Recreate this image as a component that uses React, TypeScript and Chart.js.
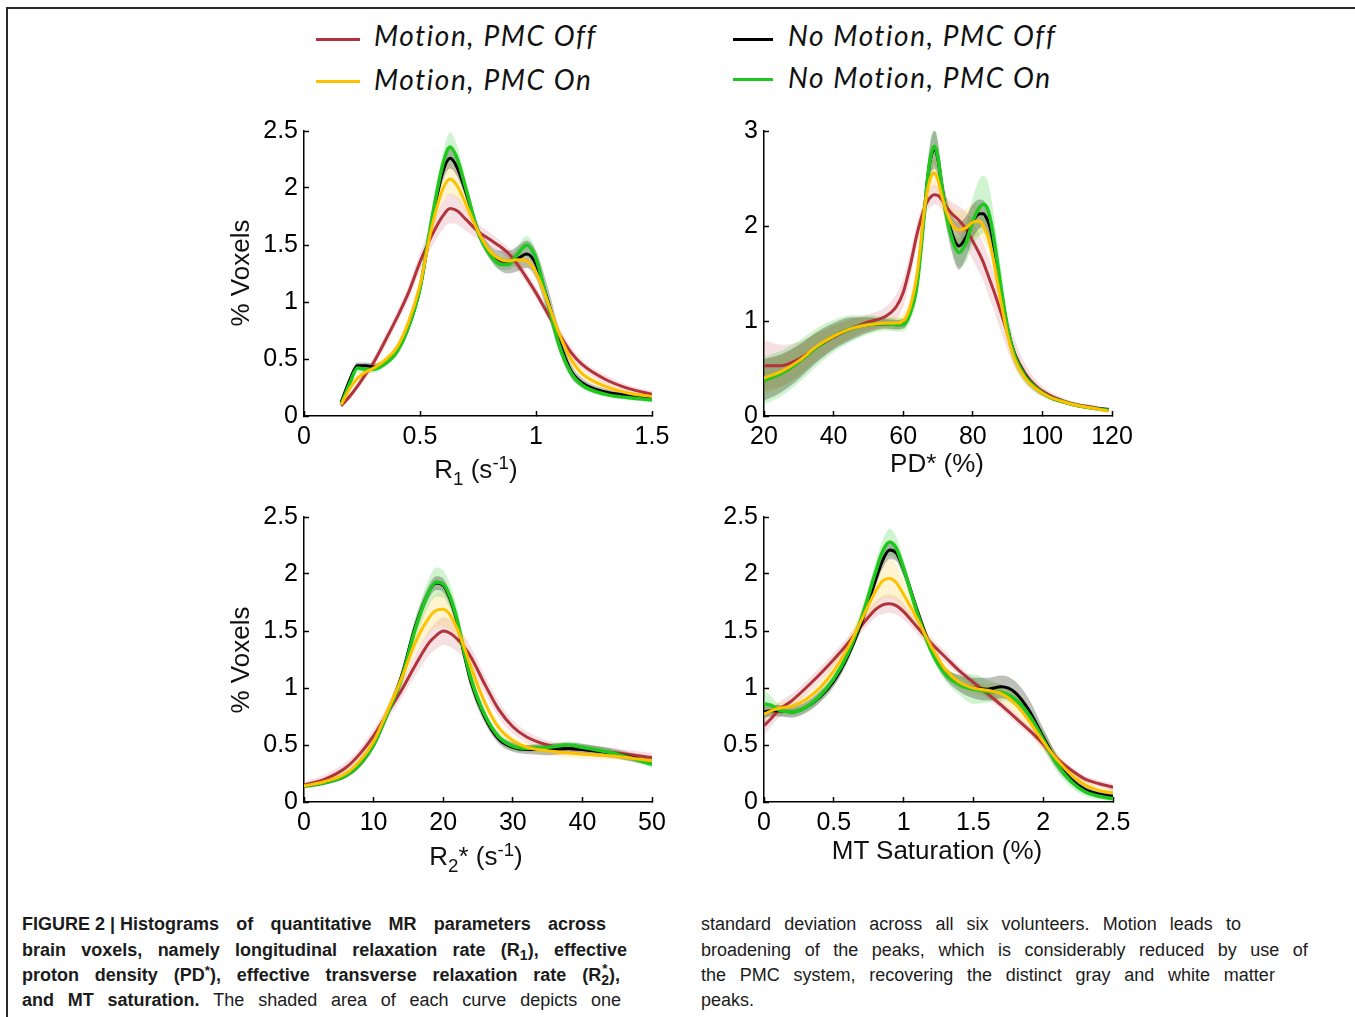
import React, { useEffect, useRef } from "react";
import { Chart, registerables } from "chart.js";

Chart.register(...registerables);

// ---------------- Series names ----------------
const seriesLabels = ["Motion, PMC Off", "Motion, PMC On", "No Motion, PMC Off", "No Motion, PMC On"];

// ---------------- R1 panel ----------------
const r1X = [0.16, 0.2, 0.23, 0.27, 0.3, 0.35, 0.4, 0.45, 0.5, 0.55, 0.6, 0.63, 0.66, 0.7, 0.75, 0.8, 0.85, 0.88, 0.92, 0.96, 1.0, 1.05, 1.1, 1.15, 1.2, 1.3, 1.4, 1.5];
const r1MotionOff = [0.09, 0.18, 0.26, 0.38, 0.47, 0.66, 0.86, 1.08, 1.35, 1.58, 1.76, 1.82, 1.8, 1.72, 1.62, 1.55, 1.48, 1.43, 1.33, 1.21, 1.08, 0.9, 0.72, 0.56, 0.45, 0.32, 0.24, 0.19];
const r1MotionOn = [0.1, 0.25, 0.33, 0.39, 0.42, 0.49, 0.6, 0.82, 1.15, 1.65, 2.0, 2.08, 2.02, 1.85, 1.62, 1.45, 1.37, 1.36, 1.37, 1.36, 1.26, 1.0, 0.72, 0.5, 0.37, 0.26, 0.2, 0.17];
const r1NoMotionOff = [0.12, 0.33, 0.44, 0.44, 0.43, 0.47, 0.57, 0.78, 1.12, 1.7, 2.15, 2.26, 2.18, 1.95, 1.62, 1.44, 1.36, 1.35, 1.38, 1.42, 1.33, 1.02, 0.66, 0.4, 0.29, 0.21, 0.18, 0.16];
const r1NoMotionOn = [0.1, 0.3, 0.42, 0.41, 0.41, 0.46, 0.56, 0.78, 1.12, 1.72, 2.22, 2.36, 2.26, 1.98, 1.62, 1.42, 1.33, 1.33, 1.42, 1.5, 1.38, 1.0, 0.62, 0.38, 0.27, 0.19, 0.16, 0.14];
const r1MotionOffSd = [0.02, 0.03, 0.03, 0.04, 0.04, 0.05, 0.05, 0.06, 0.08, 0.1, 0.12, 0.13, 0.12, 0.1, 0.07, 0.06, 0.05, 0.05, 0.05, 0.05, 0.05, 0.05, 0.05, 0.05, 0.04, 0.04, 0.03, 0.03];
const r1MotionOnSd = [0.02, 0.03, 0.03, 0.03, 0.03, 0.03, 0.04, 0.05, 0.06, 0.08, 0.12, 0.14, 0.12, 0.08, 0.05, 0.04, 0.04, 0.05, 0.06, 0.06, 0.06, 0.06, 0.06, 0.05, 0.04, 0.03, 0.02, 0.02];
const r1NoMotionOffSd = [0.02, 0.03, 0.03, 0.03, 0.03, 0.03, 0.03, 0.04, 0.05, 0.06, 0.08, 0.09, 0.08, 0.06, 0.05, 0.06, 0.09, 0.1, 0.11, 0.12, 0.12, 0.12, 0.1, 0.06, 0.04, 0.03, 0.02, 0.02];
const r1NoMotionOnSd = [0.02, 0.03, 0.04, 0.03, 0.03, 0.03, 0.03, 0.04, 0.05, 0.07, 0.1, 0.13, 0.11, 0.07, 0.05, 0.04, 0.05, 0.05, 0.07, 0.08, 0.07, 0.06, 0.05, 0.04, 0.03, 0.02, 0.02, 0.02];

// ---------------- PD* panel ----------------
const pdX = [20, 25, 30, 35, 40, 45, 50, 55, 58, 60, 62, 64, 66, 67, 68, 69, 70, 71, 72, 74, 76, 78, 80, 82, 83, 84, 85, 86, 88, 90, 92, 95, 98, 102, 106, 110, 115, 119];
const pdMotionOff = [0.53, 0.53, 0.6, 0.72, 0.83, 0.92, 0.99, 1.05, 1.15, 1.3, 1.58, 1.92, 2.18, 2.26, 2.31, 2.33, 2.32, 2.28, 2.22, 2.13, 2.06, 1.97, 1.84, 1.7, 1.62, 1.52, 1.42, 1.32, 1.1, 0.87, 0.66, 0.45, 0.32, 0.22, 0.16, 0.12, 0.09, 0.06];
const pdMotionOn = [0.4, 0.47, 0.58, 0.73, 0.84, 0.92, 0.96, 0.98, 0.98, 1.0, 1.15, 1.5, 2.15, 2.38, 2.52, 2.56, 2.48, 2.33, 2.2, 2.02, 1.96, 1.98, 2.04, 2.05, 2.0, 1.92, 1.8, 1.63, 1.22, 0.85, 0.6, 0.4, 0.29, 0.2, 0.15, 0.11, 0.08, 0.05];
const pdNoMotionOff = [0.38, 0.45, 0.57, 0.72, 0.84, 0.92, 0.96, 0.97, 0.96, 0.97, 1.1, 1.42, 2.12, 2.5, 2.73, 2.8, 2.7, 2.45, 2.22, 1.92, 1.79, 1.88, 2.05, 2.13, 2.13, 2.08, 1.98, 1.8, 1.35, 0.92, 0.65, 0.43, 0.3, 0.2, 0.15, 0.11, 0.08, 0.07];
const pdNoMotionOn = [0.37, 0.45, 0.57, 0.72, 0.84, 0.92, 0.96, 0.97, 0.96, 0.96, 1.08, 1.38, 2.1, 2.5, 2.75, 2.84, 2.72, 2.45, 2.2, 1.87, 1.72, 1.82, 2.05, 2.2, 2.23, 2.2, 2.08, 1.88, 1.38, 0.92, 0.64, 0.42, 0.3, 0.2, 0.15, 0.11, 0.08, 0.06];
const pdMotionOffSd = [0.27, 0.22, 0.18, 0.15, 0.12, 0.1, 0.08, 0.1, 0.13, 0.15, 0.14, 0.12, 0.1, 0.1, 0.1, 0.1, 0.1, 0.1, 0.1, 0.12, 0.15, 0.18, 0.2, 0.2, 0.2, 0.2, 0.2, 0.2, 0.2, 0.18, 0.15, 0.1, 0.07, 0.04, 0.03, 0.02, 0.02, 0.01];
const pdMotionOnSd = [0.18, 0.17, 0.16, 0.14, 0.12, 0.1, 0.08, 0.07, 0.07, 0.08, 0.1, 0.12, 0.14, 0.15, 0.15, 0.15, 0.15, 0.15, 0.15, 0.18, 0.2, 0.2, 0.18, 0.15, 0.14, 0.13, 0.12, 0.12, 0.1, 0.08, 0.06, 0.05, 0.04, 0.03, 0.02, 0.02, 0.01, 0.01];
const pdNoMotionOffSd = [0.22, 0.2, 0.18, 0.16, 0.14, 0.12, 0.08, 0.05, 0.05, 0.05, 0.06, 0.08, 0.12, 0.15, 0.18, 0.2, 0.18, 0.15, 0.15, 0.2, 0.25, 0.22, 0.18, 0.15, 0.14, 0.13, 0.12, 0.12, 0.1, 0.08, 0.05, 0.04, 0.03, 0.02, 0.02, 0.01, 0.01, 0.01];
const pdNoMotionOnSd = [0.25, 0.24, 0.22, 0.2, 0.17, 0.14, 0.1, 0.07, 0.07, 0.07, 0.08, 0.1, 0.14, 0.18, 0.2, 0.2, 0.18, 0.15, 0.12, 0.12, 0.15, 0.2, 0.25, 0.3, 0.3, 0.3, 0.28, 0.25, 0.2, 0.14, 0.1, 0.07, 0.05, 0.03, 0.02, 0.02, 0.01, 0.01];

// ---------------- R2* panel ----------------
const r2X = [0, 3, 6, 8, 10, 12, 14, 16, 18, 19, 20, 21, 22, 23, 24, 26, 28, 30, 32, 35, 38, 40, 45, 50];
const r2MotionOff = [0.15, 0.2, 0.3, 0.42, 0.58, 0.78, 0.98, 1.2, 1.4, 1.46, 1.5, 1.48, 1.43, 1.36, 1.27, 1.03, 0.81, 0.66, 0.57, 0.5, 0.47, 0.46, 0.43, 0.39];
const r2MotionOn = [0.14, 0.18, 0.25, 0.36, 0.53, 0.8, 1.08, 1.4, 1.62, 1.68, 1.69, 1.64, 1.52, 1.36, 1.18, 0.87, 0.65, 0.54, 0.48, 0.45, 0.43, 0.42, 0.4, 0.36];
const r2NoMotionOff = [0.14, 0.17, 0.23, 0.33, 0.5, 0.78, 1.1, 1.54, 1.85, 1.92, 1.9, 1.78, 1.58, 1.3, 1.05, 0.74, 0.55, 0.48, 0.46, 0.46, 0.47, 0.46, 0.42, 0.35];
const r2NoMotionOn = [0.14, 0.17, 0.23, 0.33, 0.5, 0.78, 1.08, 1.52, 1.85, 1.93, 1.91, 1.8, 1.6, 1.32, 1.08, 0.76, 0.57, 0.49, 0.47, 0.48, 0.5, 0.48, 0.42, 0.33];
const r2MotionOffSd = [0.03, 0.04, 0.05, 0.05, 0.06, 0.06, 0.07, 0.09, 0.11, 0.12, 0.12, 0.12, 0.11, 0.1, 0.09, 0.08, 0.07, 0.06, 0.05, 0.04, 0.04, 0.04, 0.04, 0.04];
const r2MotionOnSd = [0.02, 0.02, 0.03, 0.03, 0.04, 0.05, 0.07, 0.1, 0.14, 0.15, 0.15, 0.14, 0.12, 0.1, 0.08, 0.05, 0.04, 0.04, 0.04, 0.04, 0.04, 0.04, 0.03, 0.03];
const r2NoMotionOffSd = [0.02, 0.02, 0.02, 0.03, 0.03, 0.04, 0.05, 0.06, 0.06, 0.06, 0.06, 0.06, 0.06, 0.06, 0.06, 0.05, 0.04, 0.04, 0.04, 0.05, 0.05, 0.05, 0.04, 0.03];
const r2NoMotionOnSd = [0.02, 0.02, 0.02, 0.03, 0.03, 0.05, 0.07, 0.1, 0.12, 0.13, 0.12, 0.11, 0.1, 0.08, 0.07, 0.05, 0.04, 0.04, 0.03, 0.03, 0.03, 0.03, 0.03, 0.03];

// ---------------- MT saturation panel ----------------
const mtX = [0, 0.05, 0.1, 0.2, 0.3, 0.4, 0.5, 0.6, 0.7, 0.8, 0.85, 0.9, 0.95, 1.0, 1.1, 1.2, 1.3, 1.4, 1.5, 1.6, 1.7, 1.8, 1.9, 2.0, 2.1, 2.2, 2.3, 2.4, 2.5];
const mtMotionOff = [0.67, 0.73, 0.8, 0.89, 1.0, 1.12, 1.25, 1.39, 1.55, 1.69, 1.73, 1.74, 1.72, 1.67, 1.53, 1.39, 1.27, 1.15, 1.05, 0.95, 0.85, 0.74, 0.63, 0.51, 0.38, 0.28, 0.2, 0.16, 0.13];
const mtMotionOn = [0.77, 0.8, 0.82, 0.84, 0.9, 1.0, 1.15, 1.35, 1.6, 1.85, 1.94, 1.96, 1.92, 1.82, 1.6, 1.36, 1.16, 1.05, 1.0, 0.98, 0.95, 0.86, 0.71, 0.53, 0.37, 0.24, 0.15, 0.1, 0.08];
const mtNoMotionOff = [0.79, 0.8, 0.8, 0.79, 0.83, 0.92, 1.06, 1.28, 1.58, 1.95, 2.12, 2.21, 2.18, 2.04, 1.67, 1.34, 1.13, 1.04, 1.0, 0.99, 1.01, 0.96, 0.8, 0.57, 0.35, 0.2, 0.11, 0.07, 0.05];
const mtNoMotionOn = [0.86, 0.85, 0.81, 0.79, 0.83, 0.93, 1.08, 1.3, 1.62, 2.02, 2.2, 2.28, 2.22, 2.05, 1.65, 1.32, 1.12, 1.03, 0.99, 0.97, 0.96, 0.9, 0.76, 0.55, 0.33, 0.18, 0.09, 0.05, 0.03];
const mtMotionOffSd = [0.08, 0.07, 0.07, 0.06, 0.06, 0.06, 0.06, 0.06, 0.06, 0.07, 0.08, 0.08, 0.08, 0.07, 0.06, 0.05, 0.05, 0.04, 0.04, 0.04, 0.04, 0.04, 0.04, 0.04, 0.04, 0.03, 0.03, 0.03, 0.03];
const mtMotionOnSd = [0.05, 0.05, 0.05, 0.05, 0.05, 0.06, 0.07, 0.08, 0.1, 0.14, 0.16, 0.17, 0.16, 0.13, 0.08, 0.06, 0.05, 0.05, 0.05, 0.06, 0.08, 0.09, 0.09, 0.08, 0.06, 0.05, 0.04, 0.03, 0.03];
const mtNoMotionOffSd = [0.05, 0.05, 0.05, 0.05, 0.05, 0.05, 0.05, 0.05, 0.05, 0.06, 0.07, 0.08, 0.07, 0.06, 0.05, 0.05, 0.05, 0.07, 0.09, 0.1, 0.1, 0.1, 0.1, 0.08, 0.06, 0.04, 0.03, 0.02, 0.02];
const mtNoMotionOnSd = [0.12, 0.08, 0.05, 0.04, 0.04, 0.05, 0.05, 0.06, 0.07, 0.09, 0.1, 0.12, 0.1, 0.08, 0.06, 0.05, 0.06, 0.09, 0.13, 0.1, 0.07, 0.06, 0.07, 0.08, 0.07, 0.05, 0.04, 0.03, 0.02];

// ---------------- Styles ----------------
const LINE_COLORS = ["#b2333b", "#ffc000", "#000000", "#1fc81f"];
const BAND_COLORS = ["rgba(190,70,80,0.16)", "rgba(255,200,30,0.2)", "rgba(35,50,25,0.3)", "rgba(40,200,40,0.22)"];
const LINE_WIDTHS = [3, 3, 3, 3.5];
const SANS = "'Liberation Sans', Arial, Helvetica, sans-serif";
const TICK_FONT = { family: SANS, size: 25 };
const PAD_L = 84;
const PAD_R = 32;
const PAD_T = 20;
const PAD_B = 45;

type PanelDef = {
  rect: number[];
  xMin: number;
  xMax: number;
  xStep: number;
  yMax: number;
  yStep: number;
  x: number[];
  means: number[][];
  sds: number[][];
};

const panels: PanelDef[] = [
  { rect: [304, 131, 652, 416], xMin: 0, xMax: 1.5, xStep: 0.5, yMax: 2.5, yStep: 0.5, x: r1X,
    means: [r1MotionOff, r1MotionOn, r1NoMotionOff, r1NoMotionOn], sds: [r1MotionOffSd, r1MotionOnSd, r1NoMotionOffSd, r1NoMotionOnSd] },
  { rect: [764, 131, 1112, 416], xMin: 20, xMax: 120, xStep: 20, yMax: 3, yStep: 1, x: pdX,
    means: [pdMotionOff, pdMotionOn, pdNoMotionOff, pdNoMotionOn], sds: [pdMotionOffSd, pdMotionOnSd, pdNoMotionOffSd, pdNoMotionOnSd] },
  { rect: [304, 517, 652, 802], xMin: 0, xMax: 50, xStep: 10, yMax: 2.5, yStep: 0.5, x: r2X,
    means: [r2MotionOff, r2MotionOn, r2NoMotionOff, r2NoMotionOn], sds: [r2MotionOffSd, r2MotionOnSd, r2NoMotionOffSd, r2NoMotionOnSd] },
  { rect: [764, 517, 1113, 802], xMin: 0, xMax: 2.5, xStep: 0.5, yMax: 2.5, yStep: 0.5, x: mtX,
    means: [mtMotionOff, mtMotionOn, mtNoMotionOff, mtNoMotionOn], sds: [mtMotionOffSd, mtMotionOnSd, mtNoMotionOffSd, mtNoMotionOnSd] },
];

const pts = (xs: number[], ys: number[]) => xs.map((xv, i) => ({ x: xv, y: ys[i] }));
const fmtTick = (v: any) => String(parseFloat(Number(v).toFixed(3)));

function buildConfig(def: PanelDef): any {
  const lineOrder = [1, 3, 2, 0]; // first = drawn on top
  const bandOrder = [2, 3, 1, 0];
  const lineSets = lineOrder.map((i) => ({
    label: seriesLabels[i],
    data: pts(def.x, def.means[i]),
    borderColor: LINE_COLORS[i],
    borderWidth: LINE_WIDTHS[i],
    pointRadius: 0,
    fill: false,
    cubicInterpolationMode: "monotone",
  }));
  const bandSets = bandOrder.flatMap((i) => [
    {
      label: seriesLabels[i] + " +SD",
      data: pts(def.x, def.means[i].map((m, k) => m + def.sds[i][k])),
      borderColor: "transparent",
      borderWidth: 0,
      pointRadius: 0,
      backgroundColor: BAND_COLORS[i],
      fill: "+1",
      cubicInterpolationMode: "monotone",
    },
    {
      label: seriesLabels[i] + " -SD",
      data: pts(def.x, def.means[i].map((m, k) => m - def.sds[i][k])),
      borderColor: "transparent",
      borderWidth: 0,
      pointRadius: 0,
      fill: false,
      cubicInterpolationMode: "monotone",
    },
  ]);
  const grid = {
    display: true,
    drawOnChartArea: false,
    drawTicks: true,
    tickLength: -5,
    tickColor: "#000",
    tickWidth: 1.5,
  };
  const border = { display: true, color: "#000", width: 1.5 };
  return {
    type: "line",
    data: { datasets: [...lineSets, ...bandSets] },
    options: {
      responsive: false,
      animation: false,
      devicePixelRatio: 1,
      layout: { padding: { top: PAD_T, right: PAD_R, left: 0, bottom: 0 } },
      plugins: {
        legend: { display: false },
        tooltip: { enabled: false },
        filler: { propagate: false, drawTime: "beforeDatasetsDraw" },
      },
      scales: {
        x: {
          type: "linear",
          min: def.xMin,
          max: def.xMax,
          ticks: { stepSize: def.xStep, font: TICK_FONT, color: "#000", padding: 11, maxRotation: 0, autoSkip: false, callback: fmtTick },
          grid,
          border,
          afterFit: (s: any) => {
            s.height = PAD_B;
            s.paddingLeft = 0;
            s.paddingRight = 0;
          },
        },
        y: {
          type: "linear",
          min: 0,
          max: def.yMax,
          ticks: { stepSize: def.yStep, font: TICK_FONT, color: "#000", padding: 11, autoSkip: false, callback: fmtTick },
          grid,
          border,
          afterFit: (s: any) => {
            s.width = PAD_L;
            s.paddingTop = 0;
            s.paddingBottom = 0;
          },
        },
      },
    },
  };
}

function Panel({ def }: { def: PanelDef }) {
  const ref = useRef<HTMLCanvasElement>(null);
  useEffect(() => {
    if (!ref.current) return;
    const chart = new Chart(ref.current, buildConfig(def));
    return () => chart.destroy();
  }, [def]);
  const [l, t, r, b] = def.rect;
  const w = r - l + PAD_L + PAD_R;
  const h = b - t + PAD_T + PAD_B;
  return (
    <canvas
      ref={ref}
      width={w}
      height={h}
      style={{ position: "absolute", left: l - PAD_L, top: t - PAD_T, width: w, height: h }}
    />
  );
}

// ---------------- Text helpers ----------------
const titleStyle: React.CSSProperties = {
  position: "absolute",
  fontFamily: SANS,
  fontSize: 26,
  lineHeight: "26px",
  color: "#111",
  whiteSpace: "nowrap",
  transform: "translate(-50%, -50%)",
};
const subStyle: React.CSSProperties = { fontSize: "0.72em", position: "relative", top: "0.38em" };
const supStyle: React.CSSProperties = { fontSize: "0.72em", position: "relative", top: "-0.5em" };

function XTitle({ cx, cy, children }: { cx: number; cy: number; children: React.ReactNode }) {
  return <div style={{ ...titleStyle, left: cx, top: cy }}>{children}</div>;
}
function YTitle({ cx, cy, text }: { cx: number; cy: number; text: string }) {
  return (
    <div style={{ ...titleStyle, left: cx, top: cy, transform: "translate(-50%, -50%) rotate(-90deg)" }}>{text}</div>
  );
}

const legendFont = "Lato, 'Open Sans', 'Noto Sans', sans-serif";
const legendRows = [
  { idx: 0, lx: 316, ly: 39, tx: 374, ty: 21 },
  { idx: 1, lx: 316, ly: 81, tx: 374, ty: 65 },
  { idx: 2, lx: 733, ly: 39, tx: 788, ty: 21 },
  { idx: 3, lx: 733, ly: 79, tx: 788, ty: 63 },
];

const capFont: React.CSSProperties = {
  fontFamily: SANS,
  fontSize: 18,
  lineHeight: "25px",
  color: "#1b1b1b",
};

function JLine({ left, top, width, bold, words }: { left: number; top: number; width: number; bold?: boolean; words: React.ReactNode[] }) {
  return (
    <div
      style={{
        ...capFont,
        position: "absolute",
        left,
        top,
        width,
        display: "flex",
        justifyContent: "space-between",
        fontWeight: bold ? 700 : 400,
        whiteSpace: "pre",
      }}
    >
      {words.map((w, i) => (
        <span key={i}>{w}</span>
      ))}
    </div>
  );
}

const capSub: React.CSSProperties = { fontSize: "0.78em", position: "relative", top: "0.3em" };
const r2Star = (
  <>
    R
    <span style={{ position: "relative", display: "inline-block" }}>
      <span style={{ position: "absolute", left: 1, top: "-0.55em", fontSize: "0.75em" }}>*</span>
      <span style={capSub}>2</span>
    </span>
  </>
);

const words = (s: string) => s.split(" ");

export default function App() {
  return (
    <div
      style={{
        position: "absolute",
        left: 0,
        top: 0,
        width: 1355,
        height: 1017,
        background: "#fff",
        overflow: "hidden",
      }}
    >
      {/* frame */}
      <div
        style={{
          position: "absolute",
          left: 6,
          top: 7,
          width: 1360,
          height: 1020,
          borderTop: "2px solid #2a2a2a",
          borderLeft: "2px solid #2a2a2a",
        }}
      />

      {/* legend */}
      {legendRows.map((r) => (
        <React.Fragment key={r.idx}>
          <div
            style={{
              position: "absolute",
              left: r.lx,
              top: r.ly - 1.5,
              width: r.idx < 2 ? 44 : 40,
              height: 3,
              background: LINE_COLORS[r.idx],
            }}
          />
          <div
            style={{
              position: "absolute",
              left: r.tx,
              top: r.ty,
              fontFamily: legendFont,
              fontStyle: "italic",
              fontSize: 28,
              lineHeight: "28px",
              letterSpacing: "1.6px",
              color: "#111",
              whiteSpace: "nowrap",
            }}
          >
            {seriesLabels[r.idx]}
          </div>
        </React.Fragment>
      ))}

      {panels.map((p, i) => (
        <Panel key={i} def={p} />
      ))}

      {/* axis titles */}
      <YTitle cx={240} cy={273} text="% Voxels" />
      <YTitle cx={240} cy={660} text="% Voxels" />
      <XTitle cx={476} cy={470}>
        R<span style={subStyle}>1</span> (s<span style={supStyle}>-1</span>)
      </XTitle>
      <XTitle cx={937} cy={463}>PD* (%)</XTitle>
      <XTitle cx={476} cy={857}>
        R<span style={subStyle}>2</span>* (s<span style={supStyle}>-1</span>)
      </XTitle>
      <XTitle cx={937} cy={850}>MT Saturation (%)</XTitle>

      {/* caption, left column */}
      <JLine
        left={22}
        top={912}
        width={584}
        bold
        words={["FIGURE 2 | Histograms", ...words("of quantitative MR parameters across")]}
      />
      <JLine
        left={22}
        top={938}
        width={605}
        bold
        words={[
          ...words("brain voxels, namely longitudinal relaxation rate"),
          <>
            (R<span style={capSub}>1</span>),
          </>,
          "effective",
        ]}
      />
      <JLine
        left={22}
        top={963}
        width={598}
        bold
        words={[
          "proton",
          "density",
          <>
            (PD<span style={{ fontSize: "0.75em", position: "relative", top: "-0.45em" }}>*</span>),
          </>,
          ...words("effective transverse relaxation rate"),
          <>({r2Star}),</>,
        ]}
      />
      <JLine
        left={22}
        top={988}
        width={599}
        words={[
          <b>and</b>,
          <b>MT</b>,
          <b>saturation.</b>,
          ...words("The shaded area of each curve depicts one"),
        ]}
      />

      {/* caption, right column */}
      <JLine left={701} top={912} width={540} words={words("standard deviation across all six volunteers. Motion leads to")} />
      <JLine left={701} top={938} width={607} words={words("broadening of the peaks, which is considerably reduced by use of")} />
      <JLine left={701} top={963} width={574} words={words("the PMC system, recovering the distinct gray and white matter")} />
      <div style={{ ...capFont, position: "absolute", left: 701, top: 988 }}>peaks.</div>
    </div>
  );
}
